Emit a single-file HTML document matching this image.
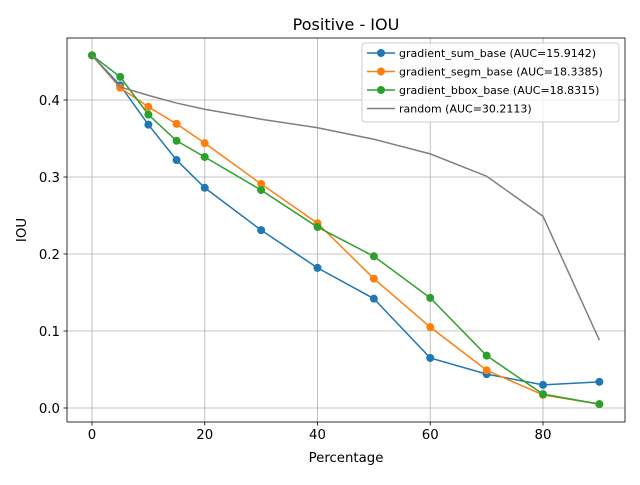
<!DOCTYPE html>
<html><head><meta charset="utf-8"><style>
body{margin:0;background:#fff;}
svg{font-family:"DejaVu Sans","Liberation Sans",sans-serif;}
</style></head><body>
<svg id="chart" width="640" height="480" xmlns="http://www.w3.org/2000/svg"></svg>
<script>
const xVals=[0,5,10,15,20,30,40,50,60,70,80,90];
const sumBase=[0.458,0.419,0.368,0.322,0.286,0.231,0.182,0.142,0.065,0.044,0.030,0.034];
const segmBase=[0.458,0.416,0.391,0.369,0.344,0.291,0.240,0.168,0.105,0.049,0.017,0.005];
const bboxBase=[0.458,0.430,0.381,0.347,0.326,0.283,0.235,0.197,0.143,0.068,0.018,0.005];
const randomBase=[0.458,0.417,0.406,0.396,0.388,0.375,0.364,0.349,0.330,0.301,0.249,0.088];
const xTicks=[0,20,40,60,80];
const yTicks=[0.0,0.1,0.2,0.3,0.4];
const seriesNames=["gradient_sum_base (AUC=15.9142)","gradient_segm_base (AUC=18.3385)","gradient_bbox_base (AUC=18.8315)","random (AUC=30.2113)"];
const seriesColors=["#1f77b4","#ff7f0e","#2ca02c","#7f7f7f"];
const ns="http://www.w3.org/2000/svg";
const svg=document.getElementById('chart');
const L=67,R=625,T=38,B=422;
const xs=v=>92+(v-0)*(543-92)/80;
const ys=v=>408-v*770;
function mk(tag,attrs,parent){const e=document.createElementNS(ns,tag);for(const k in attrs)e.setAttribute(k,attrs[k]);(parent||svg).appendChild(e);return e;}
xTicks.forEach(t=>{const l=mk('line',{x1:xs(t),x2:xs(t),y1:T,y2:B,stroke:'#b0b0b0','stroke-width':0.8});
});
yTicks.forEach(t=>{const l=mk('line',{x1:L,x2:R,y1:ys(t),y2:ys(t),stroke:'#b0b0b0','stroke-width':0.8});
});
xTicks.forEach(t=>{mk('line',{x1:xs(t),x2:xs(t),y1:B,y2:B+3.5,stroke:'#000','stroke-width':0.8});
const tx=mk('text',{x:xs(t),y:B+17,'font-size':13.3,'text-anchor':'middle'});tx.textContent=t;
});
yTicks.forEach(t=>{mk('line',{x1:L-3.5,x2:L,y1:ys(t),y2:ys(t),stroke:'#000','stroke-width':0.8});
const tx=mk('text',{x:L-7,y:ys(t)+5,'font-size':13.3,'text-anchor':'end'});tx.textContent=t.toFixed(1);
});
const all=[sumBase,segmBase,bboxBase,randomBase];
all.forEach((d,i)=>{
const pts=d.map((v,j)=>xs(xVals[j])+','+ys(v)).join(' ');
const pl=mk('polyline',{points:pts,fill:'none',stroke:seriesColors[i],'stroke-width':1.5});

if(i<3)d.forEach((v,j)=>{const c=mk('circle',{cx:xs(xVals[j]),cy:ys(v),r:4,fill:seriesColors[i]});
});
});
const fr=mk('rect',{x:L,y:T,width:R-L,height:B-T,fill:'none',stroke:'#000','stroke-width':0.8});

const ti=mk('text',{x:(L+R)/2,y:30,'font-size':16,'text-anchor':'middle'});ti.textContent='Positive - IOU';

const xt=mk('text',{x:(L+R)/2,y:462,'font-size':13.3,'text-anchor':'middle'});xt.textContent='Percentage';

const yt=mk('text',{x:26,y:230,'font-size':13.3,'text-anchor':'middle',transform:'rotate(-90 26 230)'});yt.textContent='IOU';

const lg=mk('g',{});
mk('rect',{x:362,y:43,width:257,height:79,rx:3,fill:'#fff','fill-opacity':0.8,stroke:'#ccc'},lg);
seriesNames.forEach((n,i)=>{const y=53+i*18.5;
const g=mk('g',{},lg);
mk('line',{x1:367,x2:395,y1:y,y2:y,stroke:seriesColors[i],'stroke-width':1.5},g);
if(i<3)mk('circle',{cx:381,cy:y,r:4,fill:seriesColors[i]},g);
const t=mk('text',{x:399,y:y+4,'font-size':11},g);t.textContent=n;});
</script>
</body></html>
